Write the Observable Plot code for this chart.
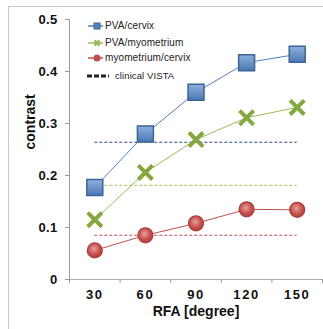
<!DOCTYPE html>
<html><head><meta charset="utf-8">
<script src="https://cdn.jsdelivr.net/npm/d3@7"></script>
<script src="https://cdn.jsdelivr.net/npm/@observablehq/plot@0.6"></script>
<style>
body{margin:0;background:#fff;font-family:"Liberation Sans",Arial,sans-serif;}
#wrap{position:relative;width:323px;height:329px;overflow:hidden;}
#frame{position:absolute;left:8px;top:6px;width:400px;height:400px;border:1px solid #c8c8c8;box-sizing:border-box;}
#chart{position:absolute;left:0;top:0;}
[aria-label="x-axis tick label"] text{letter-spacing:1.6px;}
[aria-label="y-axis tick label"] text{letter-spacing:0.3px;}
#legend{position:absolute;left:86px;top:18px;font-size:10px;color:#222;letter-spacing:0.1px;}
#legend .row{position:absolute;left:0;white-space:nowrap;height:12px;line-height:12px;}
#legend svg{position:absolute;left:0;top:0;}
</style></head>
<body>
<div id="wrap"><div id="frame"></div><div id="chart"></div><div id="legend"></div></div>
<script>
const rfa = [30, 60, 90, 120, 150];
const pvaCervix = [0.177, 0.280, 0.360, 0.417, 0.433];
const pvaMyometrium = [0.115, 0.206, 0.269, 0.311, 0.331];
const myometriumCervix = [0.056, 0.085, 0.108, 0.135, 0.134];
const seriesNames = ["PVA/cervix", "PVA/myometrium", "myometrium/cervix"];
const seriesColors = ["#4F81BD", "#9BBB59", "#C0504D"];
const vistaValues = [0.264, 0.181, 0.085];
const vistaColors = ["#2C4D85", "#B5CF7A", "#C0504D"];
const vistaLabel = "clinical VISTA";
const yTicks = [0, 0.1, 0.2, 0.3, 0.4, 0.5];
const xBoundaries = [15, 45, 75, 105, 135, 165];

const rows = (vals) => rfa.map((x, i) => ({x, y: vals[i]}));
const s1 = rows(pvaCervix), s2 = rows(pvaMyometrium), s3 = rows(myometriumCervix);
const vista = vistaValues.map((v, i) => ({y: v, c: vistaColors[i]}));

const bold = {fontWeight: "bold", fontSize: 13, fill: "#111"};
const plot = Plot.plot({
  width: 323, height: 329,
  marginLeft: 69, marginRight: 1, marginTop: 19, marginBottom: 50,
  style: {fontFamily: "Liberation Sans, Arial, sans-serif", background: "transparent", overflow: "visible"},
  x: {domain: [15, 165]},
  y: {domain: [0, 0.5]},
  marks: [
    Plot.ruleY(vista, {y: "y", x1: rfa[0], x2: rfa[rfa.length - 1], stroke: "c", strokeWidth: 1.1, strokeDasharray: "3,2"}),
    Plot.ruleX([15], {y1: 0, y2: 0.5, stroke: "#9a9a9a"}),
    Plot.ruleY([0], {stroke: "#b0b0b0"}),
    Plot.axisY({ticks: yTicks, tickFormat: d => d === 0 ? "0" : d.toFixed(1), tickSize: 4, tickPadding: 8, stroke: "#9a9a9a", label: null, ...bold}),
    Plot.axisX({ticks: xBoundaries, tickFormat: () => "", tickSize: 4, stroke: "#9a9a9a", label: null}),
    Plot.axisX({ticks: rfa, tickSize: 0, tickPadding: 10, label: null, ...bold}),
    Plot.text(["contrast"], {frameAnchor: "left", dx: -39, rotate: -90, fontSize: 14, fontWeight: "bold", fill: "#111"}),
    Plot.text(["RFA [degree]"], {frameAnchor: "bottom", lineAnchor: "middle", dy: 32, fontSize: 14, fontWeight: "bold", fill: "#111"}),
    Plot.line(s1, {x: "x", y: "y", stroke: seriesColors[0], strokeWidth: 1}),
    Plot.line(s2, {x: "x", y: "y", stroke: seriesColors[1], strokeWidth: 1}),
    Plot.line(s3, {x: "x", y: "y", stroke: seriesColors[2], strokeWidth: 1}),
    Plot.dot(s1, {x: "x", y: "y", symbol: "square", r: 9, fill: "url(#gSq)", stroke: "#3B6596", strokeWidth: 1.5}),
    Plot.dot(s2, {x: "x", y: "y", symbol: "times", r: 6.5, stroke: "#83A83F", strokeWidth: 4}),
    Plot.dot(s3, {x: "x", y: "y", symbol: "circle", r: 7.5, fill: "url(#gCi)", stroke: "#A8403D", strokeWidth: 1.2})
  ]
});
const ns = "http://www.w3.org/2000/svg";
const defs = document.createElementNS(ns, "defs");
defs.innerHTML = `
<linearGradient id="gSq" x1="0" y1="0" x2="0" y2="1"><stop offset="0" stop-color="#8FB0DD"/><stop offset="1" stop-color="#4A78B4"/></linearGradient>
<radialGradient id="gCi" cx="0.45" cy="0.4" r="0.6"><stop offset="0" stop-color="#E8A09D"/><stop offset="0.6" stop-color="#C8534F"/><stop offset="1" stop-color="#B2403C"/></radialGradient>`;
plot.insertBefore(defs, plot.firstChild);
document.getElementById("chart").appendChild(plot);

// legend
const legend = document.getElementById("legend");
const rowY = [8, 25, 40, 58];
seriesNames.forEach((name, i) => {
  const r = document.createElement("div");
  r.className = "row"; r.style.top = (rowY[i] - 6) + "px";
  let sym = "";
  if (i === 0) sym = `<rect x="8" y="3" width="6" height="6" fill="${seriesColors[0]}" stroke="#3B6596"/>`;
  if (i === 1) sym = `<path d="M8.5,3.5L13.5,8.5M13.5,3.5L8.5,8.5" stroke="${seriesColors[1]}" stroke-width="2.5"/>`;
  if (i === 2) sym = `<circle cx="11" cy="6" r="3.5" fill="${seriesColors[2]}"/>`;
  r.innerHTML = `<svg width="18" height="12"><line x1="2" x2="17" y1="6" y2="6" stroke="${seriesColors[i]}" stroke-width="1.5"/>${sym}</svg><span style="position:absolute;left:19px;top:0">${name}</span>`;
  legend.appendChild(r);
});
const rv = document.createElement("div");
rv.className = "row"; rv.style.top = (rowY[3] - 6) + "px";
rv.innerHTML = `<svg width="26" height="12"><line x1="1" x2="23" y1="6" y2="6" stroke="#222" stroke-width="3" stroke-dasharray="5,2"/></svg><span style="position:absolute;left:29px;top:0;font-size:9.5px">${vistaLabel}</span>`;
legend.appendChild(rv);
</script>
</body></html>
